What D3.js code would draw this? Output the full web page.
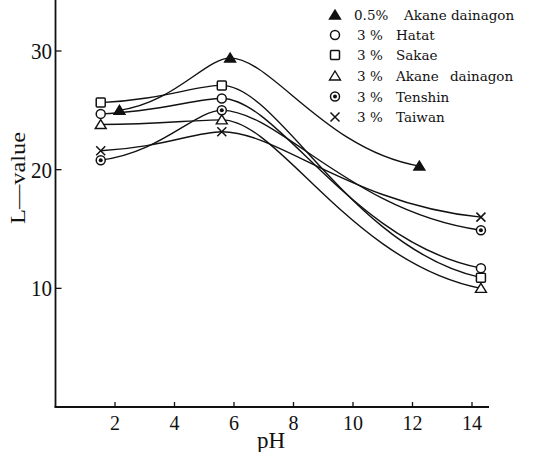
<!DOCTYPE html>
<html>
<head>
<meta charset="utf-8">
<script src="https://cdn.jsdelivr.net/npm/d3@7"></script>
<style>
  body { margin: 0; background: #fff; }
  text { fill: #111; }
</style>
</head>
<body>
<svg id="chart" width="534" height="452"></svg>
<script>
// pH where each series was measured
const phAkane05 = [2.15, 5.87, 12.23];
const phOthers = [1.52, 5.59, 14.3];

// L-values
const lAkane05 = [25.0, 29.4, 20.3];
const lHatat = [24.7, 26.0, 11.7];
const lSakae = [25.65, 27.1, 10.9];
const lAkane3 = [23.8, 24.2, 10.0];
const lTenshin = [20.8, 25.0, 14.9];
const lTaiwan = [21.6, 23.2, 16.0];

// legend text
const concentrations = ["0.5%", "3 %", "3 %", "3 %", "3 %", "3 %"];
const varieties = ["Akane dainagon", "Hatat", "Sakae", "Akane dainagon", "Tenshin", "Taiwan"];
const symbols = ["triFilled", "circle", "square", "triOpen", "dotCircle", "cross"];

const xTicks = [2, 4, 6, 8, 10, 12, 14];
const yTicks = [10, 20, 30];

const series = [
  { ph: phAkane05, l: lAkane05 },
  { ph: phOthers, l: lHatat },
  { ph: phOthers, l: lSakae },
  { ph: phOthers, l: lAkane3 },
  { ph: phOthers, l: lTenshin },
  { ph: phOthers, l: lTaiwan }
];

const svg = d3.select("#chart");

const x = d3.scaleLinear().domain([0, 14]).range([55.5, 472]);
const y = d3.scaleLinear().domain([0, 30]).range([407, 51]);

// hand drawn (french curve) look: short handles at the peaks,
// long flat-ish handles at the two ends
function handCurve(context) {
  let pts;
  const endSlope = 0.3, peakHandle = 0.22, endHandle = 0.5;
  return {
    areaStart() {}, areaEnd() {},
    lineStart() { pts = []; },
    point(px, py) { pts.push([+px, +py]); },
    lineEnd() {
      const n = pts.length;
      const s = [];
      for (let i = 0; i < n - 1; i++) {
        s.push((pts[i + 1][1] - pts[i][1]) / (pts[i + 1][0] - pts[i][0]));
      }
      const t = pts.map(function(p, i) {
        if (i === 0) return s[0] * endSlope;
        if (i === n - 1) return s[n - 2] * endSlope;
        return s[i - 1] * s[i] <= 0 ? 0 : (s[i - 1] + s[i]) / 2;
      });
      const hk = pts.map((p, i) => (i === 0 || i === n - 1) ? endHandle : peakHandle);
      context.moveTo(pts[0][0], pts[0][1]);
      for (let i = 0; i < n - 1; i++) {
        const [x0, y0] = pts[i], [x1, y1] = pts[i + 1];
        const dx = x1 - x0;
        const h0 = hk[i] * dx, h1 = hk[i + 1] * dx;
        context.bezierCurveTo(x0 + h0, y0 + t[i] * h0, x1 - h1, y1 - t[i + 1] * h1, x1, y1);
      }
    }
  };
}

// axes
const axisG = svg.append("g");
axisG.append("line")
  .attr("x1", x(0)).attr("x2", x(0))
  .attr("y1", 0).attr("y2", y(0))
  .attr("stroke", "#111").attr("stroke-width", 1.8);
axisG.append("line")
  .attr("x1", x(0) - 1).attr("x2", 489)
  .attr("y1", y(0)).attr("y2", y(0))
  .attr("stroke", "#111").attr("stroke-width", 1.8);

axisG.selectAll(".xtick")
  .data(xTicks)
  .enter()
  .append("line")
    .attr("x1", d => x(d)).attr("x2", d => x(d))
    .attr("y1", y(0)).attr("y2", y(0) - 5)
    .attr("stroke", "#111").attr("stroke-width", 1.3);

axisG.selectAll(".xlab")
  .data(xTicks)
  .enter()
  .append("text")
    .attr("x", d => x(d))
    .attr("y", 430)
    .attr("text-anchor", "middle")
    .style("font-family", "'Liberation Serif', serif")
    .style("font-size", "20px")
    .text(d => d);

axisG.selectAll(".ytick")
  .data(yTicks)
  .enter()
  .append("line")
    .attr("x1", x(0)).attr("x2", x(0) + 6)
    .attr("y1", d => y(d)).attr("y2", d => y(d))
    .attr("stroke", "#111").attr("stroke-width", 1.3);

axisG.selectAll(".ylab")
  .data(yTicks)
  .enter()
  .append("text")
    .attr("x", 52)
    .attr("y", d => y(d) + 8)
    .attr("text-anchor", "end")
    .attr("textLength", 21)
    .attr("lengthAdjust", "spacingAndGlyphs")
    .style("font-family", "'Liberation Serif', serif")
    .style("font-size", "23px")
    .text(d => d);

svg.append("text")
  .attr("x", 271)
  .attr("y", 448)
  .attr("text-anchor", "middle")
  .style("font-family", "'Liberation Serif', serif")
  .style("font-size", "23px")
  .text("pH");

svg.append("text")
  .attr("transform", "translate(25,178) rotate(-90)")
  .attr("text-anchor", "middle")
  .attr("textLength", 92)
  .attr("lengthAdjust", "spacingAndGlyphs")
  .style("font-family", "'Liberation Serif', serif")
  .style("font-size", "20px")
  .text("L\u2014value");

// curves
const line = d3.line()
  .x(d => x(d[0]))
  .y(d => y(d[1]))
  .curve(handCurve);

svg.append("g")
  .selectAll("path")
  .data(series)
  .enter()
  .append("path")
    .attr("d", d => line(d.ph.map((p, i) => [p, d.l[i]])))
    .attr("fill", "none")
    .attr("stroke", "#111")
    .attr("stroke-width", 1.4);

// markers
function drawSymbol(g, kind) {
  if (kind === "triFilled" || kind === "triOpen") {
    g.append("path")
      .attr("d", "M0,-5 L5.5,4 L-5.5,4 Z")
      .attr("fill", kind === "triFilled" ? "#111" : "#fff")
      .attr("stroke", "#111").attr("stroke-width", 1.4);
  } else if (kind === "circle") {
    g.append("circle").attr("r", 4.5)
      .attr("fill", "#fff").attr("stroke", "#111").attr("stroke-width", 1.5);
  } else if (kind === "square") {
    g.append("rect").attr("x", -4.5).attr("y", -4.5)
      .attr("width", 9).attr("height", 9).attr("rx", 1)
      .attr("fill", "#fff").attr("stroke", "#111").attr("stroke-width", 1.5);
  } else if (kind === "dotCircle") {
    g.append("circle").attr("r", 4.5)
      .attr("fill", "#fff").attr("stroke", "#111").attr("stroke-width", 1.5);
    g.append("circle").attr("r", 2).attr("fill", "#111");
  } else if (kind === "cross") {
    g.append("path")
      .attr("d", "M-4.5,-4.5 L4.5,4.5 M4.5,-4.5 L-4.5,4.5")
      .attr("stroke", "#111").attr("stroke-width", 1.5);
  }
}

series.forEach(function(s, k) {
  s.ph.forEach(function(p, i) {
    const g = svg.append("g")
      .attr("transform", "translate(" + x(p) + "," + y(s.l[i]) + ")");
    drawSymbol(g, symbols[k]);
  });
});

// legend
const legendRows = [15, 35, 55, 76, 96.5, 117];
symbols.forEach(function(sym, k) {
  const g = svg.append("g")
    .attr("transform", "translate(335," + legendRows[k] + ")");
  drawSymbol(g, sym);
  g.append("text")
    .attr("x", k === 0 ? 19 : 22)
    .attr("y", 5)
    .style("font-family", "'DejaVu Serif', serif")
    .style("font-size", "13.5px")
    .text(concentrations[k]);
  g.append("text")
    .attr("x", k === 0 ? 69 : 61)
    .attr("y", 5)
    .style("font-family", "'DejaVu Serif', serif")
    .style("font-size", "13.5px")
    .style("word-spacing", k === 3 ? "7px" : "0px")
    .text(varieties[k]);
});
</script>
</body>
</html>
